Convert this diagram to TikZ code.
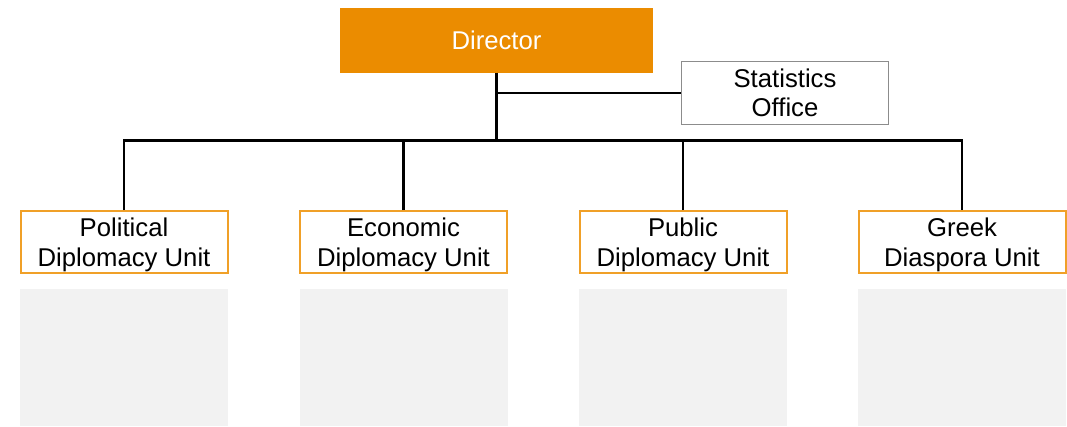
\documentclass[tikz,border=0pt]{standalone}
\usepackage{fontspec}
\setmainfont{Liberation Sans}
\definecolor{dirorange}{HTML}{EB8C00}
\definecolor{unitorange}{HTML}{F0A028}
\definecolor{statgrey}{HTML}{8C8C8C}
\definecolor{panelgrey}{HTML}{F2F2F2}
\newcommand{\ustrut}{\rule{0pt}{24.5pt}}
\begin{document}
\begin{tikzpicture}[x=1pt,y=-1pt,
  txt/.style={font=\fontsize{25.7}{29.6}\selectfont, align=center, inner sep=0pt},
  dirbox/.style={txt, fill=dirorange, text=white, minimum width=313pt, minimum height=65pt},
  statbox/.style={txt, draw=statgrey, line width=1.5pt, fill=white, minimum width=207pt, minimum height=63pt},
  unitbox/.style={txt, draw=unitorange, line width=2pt, fill=white, minimum width=207pt, minimum height=62pt},
  panel/.style={fill=panelgrey, draw=none, minimum width=208pt, minimum height=137pt, inner sep=0pt},
  conn/.style={draw=black, line width=2.4pt}
]
\useasboundingbox (0,0) rectangle (1067,426);
\node[dirbox] (dir) at (496.5,40) {Director};
\node[statbox] (stat) at (785,93) {Statistics\\Office};
\node[unitbox] (u1) at (124,242) {\ustrut Political\\Diplomacy Unit};
\node[unitbox] (u2) at (403.5,242) {\ustrut Economic\\Diplomacy Unit};
\node[unitbox] (u3) at (683,242) {\ustrut Public\\Diplomacy Unit};
\node[unitbox] (u4) at (962,242) {\ustrut Greek\\Diaspora Unit};
\node[panel] (p1) at (124,357.5) {};
\node[panel] (p2) at (403.5,357.5) {};
\node[panel] (p3) at (683,357.5) {};
\node[panel] (p4) at (962,357.5) {};
\coordinate (bus) at (496.5,140.5);
\draw[conn] (dir.south) -- (bus);
\draw[conn] (dir.south |- stat.west) -- (stat.west);
\draw[conn] (u1.north) |- (u4.north |- bus) -- (u4.north);
\draw[conn] (u2.north) -- (u2.north |- bus);
\draw[conn] (u3.north) -- (u3.north |- bus);
\end{tikzpicture}
\end{document}
